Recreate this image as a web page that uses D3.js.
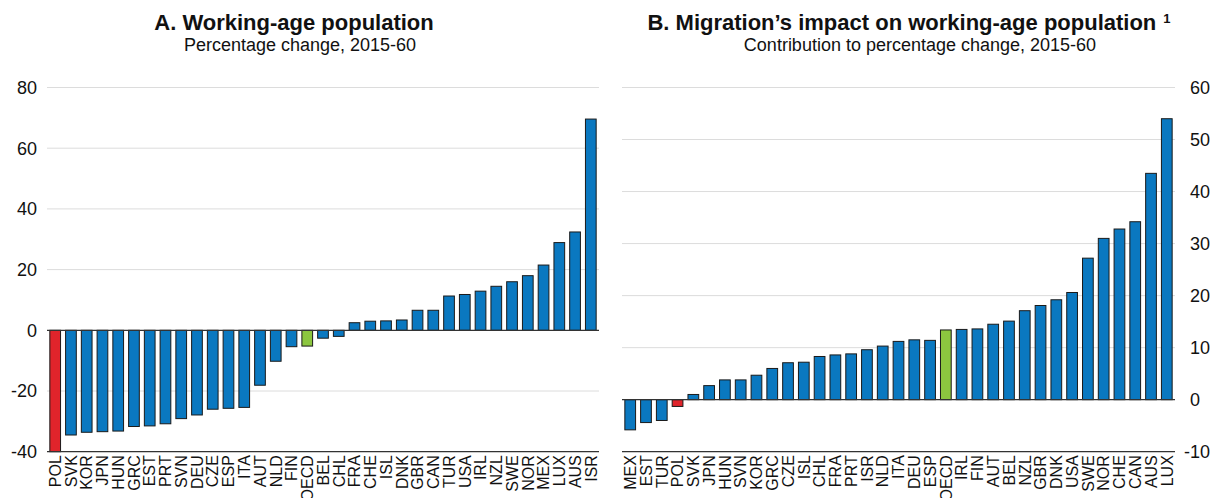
<!DOCTYPE html>
<html>
<head>
<meta charset="utf-8">
<script src="https://cdn.jsdelivr.net/npm/d3@7/dist/d3.min.js"></script>
<style>
  html, body { margin: 0; padding: 0; background: #fff; }
  text { font-family: "Liberation Sans", Arial, Helvetica, sans-serif; fill: #111; }
</style>
</head>
<body>
<svg id="chart" width="1213" height="498"></svg>
<script>
// ---- Data ----
const categoriesA = ["POL","SVK","KOR","JPN","HUN","GRC","EST","PRT","SVN","DEU","CZE","ESP","ITA","AUT","NLD","FIN","OECD","BEL","CHL","FRA","CHE","ISL","DNK","GBR","CAN","TUR","USA","IRL","NZL","SWE","NOR","MEX","LUX","AUS","ISR"];
const valuesA = [-40.0,-34.5,-33.6,-33.4,-33.2,-31.7,-31.5,-30.8,-29.1,-27.9,-26.0,-25.7,-25.4,-18.1,-10.2,-5.4,-5.2,-2.6,-2.0,2.5,3.0,3.1,3.4,6.6,6.6,11.3,11.8,12.9,14.5,16.0,18.0,21.5,28.9,32.4,69.6];
const ticksA = [-40,-20,0,20,40,60,80];

const categoriesB = ["MEX","EST","TUR","POL","SVK","JPN","HUN","SVN","KOR","GRC","CZE","ISL","CHL","FRA","PRT","ISR","NLD","ITA","DEU","ESP","OECD","IRL","FIN","AUT","BEL","NZL","GBR","DNK","USA","SWE","NOR","CHE","CAN","AUS","LUX"];
const valuesB = [-5.8,-4.4,-4.0,-1.3,1.0,2.7,3.8,3.8,4.7,6.0,7.1,7.2,8.3,8.6,8.8,9.6,10.3,11.2,11.5,11.4,13.4,13.5,13.6,14.5,15.1,17.1,18.1,19.2,20.6,27.2,31.0,32.8,34.2,43.5,54.0];
const ticksB = [-10,0,10,20,30,40,50,60];

const titles = ["A. Working-age population", "B. Migration\u2019s impact on working-age population"];
const subtitles = ["Percentage change, 2015-60", "Contribution to percentage change, 2015-60"];

// ---- Styles ----
const BLUE = "#0a78c0", RED = "#e0242b", GREEN = "#8cc63f";
const colorFor = c => c === "POL" ? RED : (c === "OECD" ? GREEN : BLUE);

const svg = d3.select("#chart");
const plotTop = 87.5, plotBottom = 451.7;

function panel(cats, vals, ticks, x0, x1, side, title, subtitle, titleX, subX, sup) {
  const g = svg.append("g");
  const x = d3.scaleBand().domain(cats).range([x0, x1]).paddingInner(0.32).paddingOuter(0.18);
  const y = d3.scaleLinear().domain([ticks[0], ticks[ticks.length - 1]]).range([plotBottom, plotTop]);

  g.selectAll(".grid").data(ticks.filter(t => t !== 0 && t !== ticks[0])).enter()
    .append("line")
    .attr("x1", x0).attr("x2", x1)
    .attr("y1", d => y(d)).attr("y2", d => y(d))
    .attr("stroke", "#dcdcdc").attr("stroke-width", 1);

  g.selectAll(".bar").data(cats.map((c, i) => ({c, v: vals[i]}))).enter()
    .append("rect")
    .attr("x", d => x(d.c))
    .attr("width", x.bandwidth())
    .attr("y", d => y(Math.max(0, d.v)))
    .attr("height", d => Math.abs(y(d.v) - y(0)))
    .attr("fill", d => colorFor(d.c))
    .attr("stroke", "#1a1a1a").attr("stroke-width", 1);

  g.append("line").attr("x1", x0).attr("x2", x1).attr("y1", y(0)).attr("y2", y(0))
    .attr("stroke", "#333").attr("stroke-width", 1.3);
  g.append("line").attr("x1", x0).attr("x2", x1).attr("y1", y(ticks[0])).attr("y2", y(ticks[0]))
    .attr("stroke", "#333").attr("stroke-width", 1.3);

  g.selectAll(".yt").data(ticks).enter().append("text")
    .attr("x", d => side === "left" ? x0 - 10 : (d < 0 ? x1 + 9 : x1 + 15))
    .attr("y", d => y(d))
    .attr("dy", "0.36em")
    .attr("text-anchor", side === "left" ? "end" : "start")
    .attr("font-size", 18)
    .text(d => d);

  g.selectAll(".xl").data(cats).enter().append("text")
    .attr("transform", d => `translate(${x(d) + x.bandwidth() / 2},${plotBottom + 3.5}) rotate(-90)`)
    .attr("text-anchor", "end")
    .attr("dy", "0.36em")
    .attr("font-size", 16)
    .text(d => d);

  const t = g.append("text").attr("x", titleX).attr("y", 30).attr("text-anchor", "middle")
    .attr("font-size", 22).attr("font-weight", "bold").text(title);
  if (sup) t.append("tspan").attr("font-size", 13).attr("dx", 7).attr("dy", -7).text(sup);
  g.append("text").attr("x", subX).attr("y", 51).attr("text-anchor", "middle")
    .attr("font-size", 18).text(subtitle);
}

panel(categoriesA, valuesA, ticksA, 47, 599, "left", titles[0], subtitles[0], 294, 300, null);
panel(categoriesB, valuesB, ticksB, 622, 1175, "right", titles[1], subtitles[1], 909, 920, "1");
</script>
</body>
</html>
